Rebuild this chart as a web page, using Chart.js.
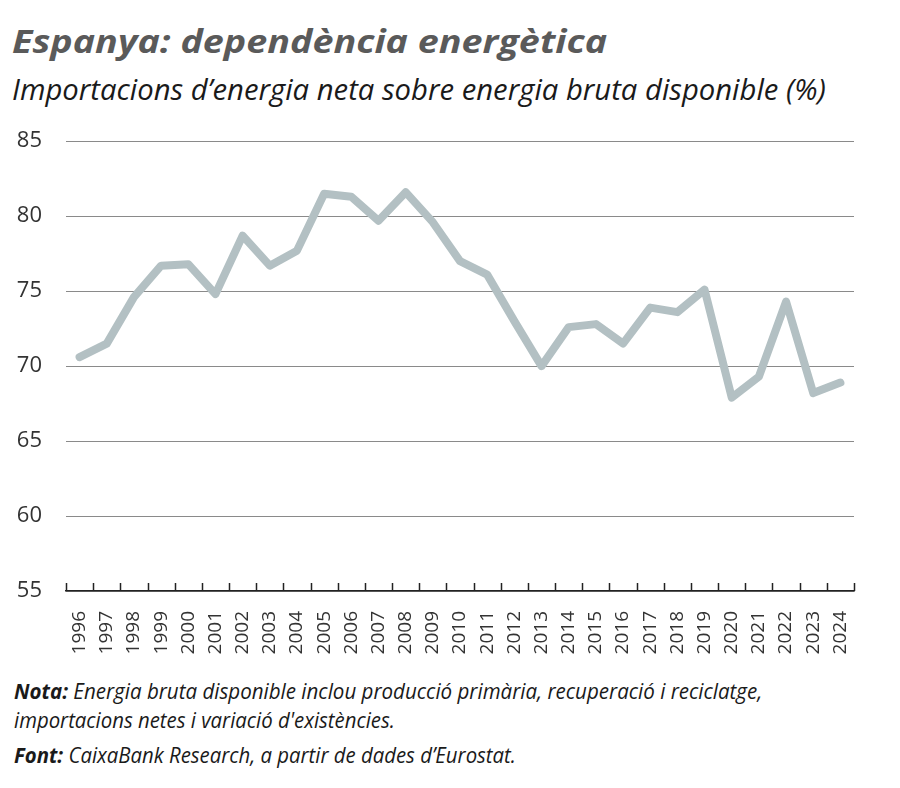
<!DOCTYPE html>
<html>
<head>
<meta charset="utf-8">
<script src="https://cdn.jsdelivr.net/npm/chart.js@4"></script>
<style>
  body { margin: 0; background: #fff; width: 900px; height: 788px; position: relative; overflow: hidden; font-family: "Open Sans", sans-serif; }
  .txt { position: absolute; left: 12px; white-space: nowrap; line-height: 1; transform-origin: 0 0; }
  #title { top: 25px; font-size: 32px; font-weight: 700; font-style: italic; color: #5a5a5a; }
  #subtitle { top: 74px; font-size: 29px; font-style: italic; color: #1a1a1a; }
  .foot { font-size: 21px; font-style: italic; color: #1a1a1a; left: 14px; }
  #wrap { position: absolute; left: 0; top: 104px; width: 900px; height: 566px; }
</style>
</head>
<body>
<div id="title" class="txt" data-w="595">Espanya: dependència energètica</div>
<div id="subtitle" class="txt" data-w="814">Importacions d’energia neta sobre energia bruta disponible (%)</div>
<div id="wrap"><canvas id="chart"></canvas></div>
<div class="txt foot" style="top:681px" data-w="748"><b>Nota:</b> Energia bruta disponible inclou producció primària, recuperació i reciclatge,</div>
<div class="txt foot" style="top:710px" data-w="381">importacions netes i variació d'existències.</div>
<div class="txt foot" style="top:745px" data-w="502"><b>Font:</b> CaixaBank Research, a partir de dades d’Eurostat.</div>
<script>
const years = ['1996', '1997', '1998', '1999', '2000', '2001', '2002', '2003', '2004', '2005',
  '2006', '2007', '2008', '2009', '2010', '2011', '2012', '2013', '2014', '2015',
  '2016', '2017', '2018', '2019', '2020', '2021', '2022', '2023', '2024'];
const dependence = [70.6, 71.5, 74.6, 76.7, 76.8, 74.8, 78.7, 76.7, 77.7, 81.5,
  81.3, 79.7, 81.6, 79.6, 77.0, 76.1, 73.0, 70.0, 72.6, 72.8,
  71.5, 73.9, 73.6, 75.1, 67.9, 69.3, 74.3, 68.2, 68.9];
const yTicks = [55, 60, 65, 70, 75, 80, 85];

// squeeze text lines to the widths of the original
document.querySelectorAll('.txt').forEach(el => {
  const w = parseFloat(el.dataset.w);
  el.style.transform = 'scaleX(' + (w / el.scrollWidth) + ')';
});

// small upward ticks on the x axis, between categories
const upTicks = {
  id: 'upTicks',
  afterDraw(c) {
    const x = c.scales.x, area = c.chartArea, g = c.ctx;
    g.save();
    g.strokeStyle = '#222';
    g.lineWidth = 1.5;
    g.beginPath();
    for (let i = 0; i <= years.length; i++) {
      let px;
      if (i === 0) px = area.left;
      else if (i === years.length) px = area.right;
      else px = (x.getPixelForValue(i - 1) + x.getPixelForValue(i)) / 2;
      px = Math.round(px) + 0.5;
      g.moveTo(px, area.bottom);
      g.lineTo(px, area.bottom - 8);
    }
    g.stroke();
    g.restore();
  }
};

const ctx = document.getElementById('chart').getContext('2d');
new Chart(ctx, {
  type: 'line',
  data: {
    labels: years,
    datasets: [{
      data: dependence,
      borderColor: '#b3c0c3',
      borderWidth: 8,
      borderCapStyle: 'round',
      borderJoinStyle: 'round',
      pointRadius: 0,
      tension: 0
    }]
  },
  options: {
    responsive: true,
    maintainAspectRatio: false,
    animation: false,
    layout: { padding: { top: 11, right: 46, left: 0, bottom: 0 } },
    plugins: { legend: { display: false }, tooltip: { enabled: false } },
    scales: {
      x: {
        offset: true,
        grid: { display: false },
        border: { display: true, color: '#222', width: 1.5 },
        ticks: {
          minRotation: 90, maxRotation: 90, autoSkip: false, padding: 12,
          color: '#333', font: { family: 'Open Sans', size: 19 }
        },
        afterFit(s) { s.height = 79; }
      },
      y: {
        min: 55, max: 85,
        afterBuildTicks(s) { s.ticks = yTicks.map(v => ({ value: v })); },
        grid: { color: '#8a8a8a', lineWidth: 1, drawTicks: false },
        border: { display: false },
        ticks: { padding: 24, color: '#333', font: { family: 'Open Sans', size: 22 } },
        afterFit(s) { s.width = 66; }
      }
    }
  },
  plugins: [upTicks]
});
</script>
</body>
</html>
